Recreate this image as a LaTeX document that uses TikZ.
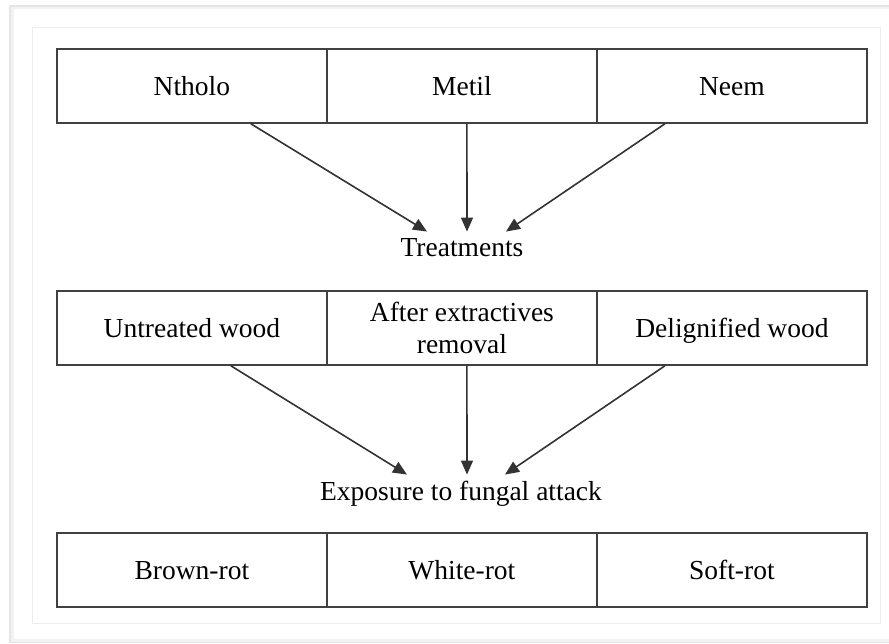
\documentclass[tikz,border=0pt]{standalone}
\usepackage{fontspec}
\setmainfont{Liberation Serif}
\usetikzlibrary{arrows.meta,calc}
\begin{document}
\begin{tikzpicture}[x=1pt,y=-1pt,
  cellbase/.style={draw=black!75,line width=1.8pt,minimum width=270pt,minimum height=74pt,inner sep=0pt,font=\fontsize{27.5}{32}\selectfont,align=center,anchor=north west},
  cell/.style={cellbase,text height=18.5pt,text depth=0pt},
  lbl/.style={font=\fontsize{27.5}{33}\selectfont,inner sep=2pt,text height=18.5pt,text depth=0pt},
  arr/.style={draw=black!80,line width=1.6pt,-{Triangle[length=14pt,width=12pt]}}]
\useasboundingbox (0,0) rectangle (889,643);
% frames
\fill[black!10] (9,5) rectangle (892,643);
\fill[black!5] (11,7) rectangle (892,642);
\fill[white] (14,9) rectangle (892,639);
\draw[black!7,line width=1pt] (32,27) rectangle (880,623);
% row 1
\node[cell] (n1) at (56,48) {Ntholo};
\node[cell] (n2) at (326,48) {Metil};
\node[cell] (n3) at (596,48) {Neem};
\node[lbl] (treat) at (462,247) {Treatments};
% row 2
\node[cell] (m1) at (56,290) {Untreated wood};
\node[cellbase] (m2) at (326,290) {After extractives\\removal};
\node[cell] (m3) at (596,290) {Delignified wood};
\node[lbl] (expo) at (461,491) {Exposure to fungal attack};
% row 3
\node[cell] (b1) at (56,532) {Brown-rot};
\node[cell] (b2) at (326,532) {White-rot};
\node[cell] (b3) at (596,532) {Soft-rot};
% arrows
\draw[arr] ([xshift=59pt]n1.south) -- ([xshift=-35pt,yshift=4pt]treat.north);
\draw[arr] ([xshift=5pt]n2.south) -- ([xshift=5pt,yshift=4pt]treat.north);
\draw[arr] ([xshift=-67pt]n3.south) -- ([xshift=44pt,yshift=4pt]treat.north);
\draw[arr] ([xshift=39pt]m1.south) -- ([xshift=-54pt,yshift=5pt]expo.north);
\draw[arr] ([xshift=5pt]m2.south) -- ([xshift=6pt,yshift=5pt]expo.north);
\draw[arr] ([xshift=-67pt]m3.south) -- ([xshift=44pt,yshift=5pt]expo.north);
\end{tikzpicture}
\end{document}
